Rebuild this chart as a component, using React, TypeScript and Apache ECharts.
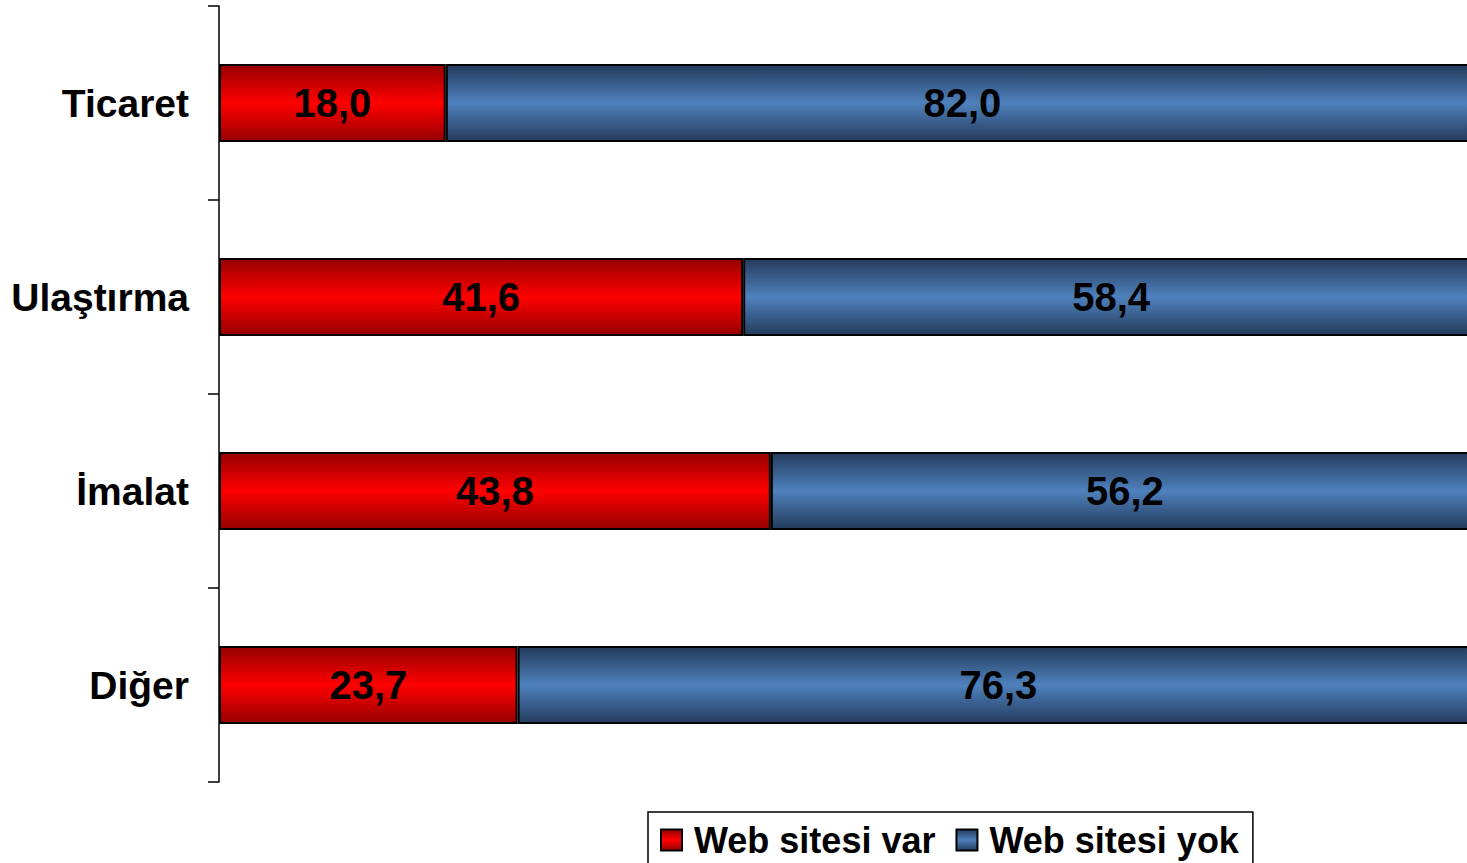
import React, { useEffect, useRef } from "react";
import * as echarts from "echarts";

const categories = ["Ticaret", "Ulaştırma", "İmalat", "Diğer"];
const webVar = [18.0, 41.6, 43.8, 23.7];
const webYok = [82.0, 58.4, 56.2, 76.3];
const seriesNames = ["Web sitesi var", "Web sitesi yok"];

const FONT = "'Liberation Sans', Arial, sans-serif";

const grad = (edge: string, mid: string) =>
  new echarts.graphic.LinearGradient(0, 0, 0, 1, [
    { offset: 0, color: edge },
    { offset: 0.5, color: mid },
    { offset: 1, color: edge },
  ]);

export default function App() {
  const ref = useRef<HTMLDivElement>(null);
  useEffect(() => {
    if (!ref.current) return;
    const chart = echarts.init(ref.current, undefined, { renderer: "svg" });
    const label = {
      show: true,
      position: "inside" as const,
      color: "#000",
      fontFamily: FONT,
      fontWeight: "bold" as const,
      fontSize: 40,
      formatter: (p: any) => Number(p.value).toFixed(1).replace(".", ","),
    };
    chart.setOption({
      animation: false,
      backgroundColor: "#fff",
      grid: { left: 219, top: 6, height: 776, width: 1260, containLabel: false },
      xAxis: {
        type: "value",
        min: 0,
        max: 100,
        show: false,
      },
      yAxis: {
        type: "category",
        data: categories,
        inverse: true,
        axisLine: { show: true, lineStyle: { color: "#000", width: 1.5 } },
        axisTick: { show: true, length: 11, lineStyle: { color: "#000", width: 1.5 } },
        axisLabel: {
          color: "#000",
          fontFamily: FONT,
          fontWeight: "bold",
          fontSize: 39,
          margin: 30,
        },
        splitLine: { show: false },
      },
      legend: {
        left: 648,
        top: 812,
        padding: [10, 14, 12, 12],
        borderColor: "#000",
        borderWidth: 1.5,
        itemWidth: 21,
        itemHeight: 21,
        itemGap: 20,
        icon: "rect",
        textStyle: {
          color: "#000",
          fontFamily: FONT,
          fontWeight: "bold",
          fontSize: 36,
          padding: [0, 0, 0, 7],
        },
        data: seriesNames,
      },
      series: [
        {
          name: seriesNames[0],
          type: "bar",
          stack: "total",
          barWidth: 78,
          data: webVar,
          label,
          itemStyle: {
            color: grad("#960000", "#ff0000"),
            borderColor: "#000",
            borderWidth: 2,
          },
        },
        {
          name: seriesNames[1],
          type: "bar",
          stack: "total",
          barWidth: 78,
          data: webYok,
          label,
          itemStyle: {
            color: grad("#243b5c", "#4f81bd"),
            borderColor: "#000",
            borderWidth: 2,
          },
        },
      ],
    });
    return () => chart.dispose();
  }, []);
  return (
    <div
      style={{ position: "fixed", left: 0, top: 0, width: 1467, height: 863, overflow: "hidden", background: "#fff" }}
    >
      <div ref={ref} style={{ width: 1490, height: 863 }} />
    </div>
  );
}
